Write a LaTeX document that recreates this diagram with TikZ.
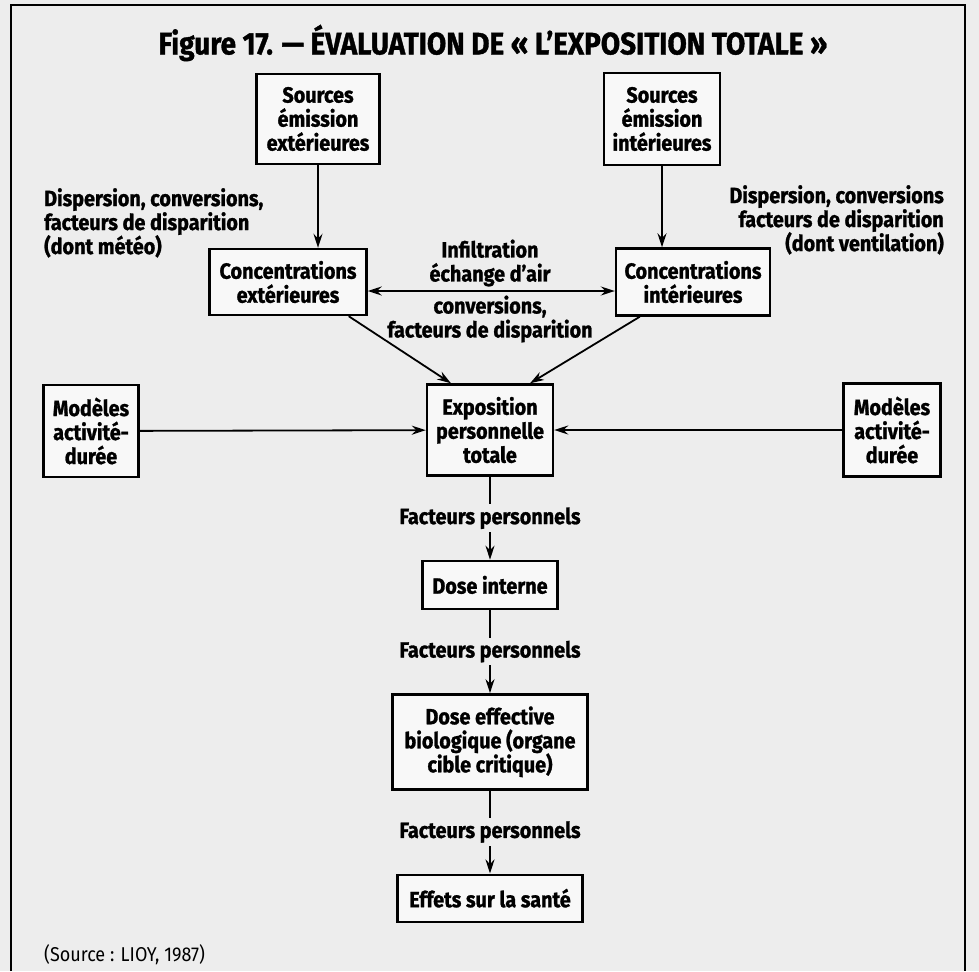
\documentclass[tikz,border=0pt]{standalone}
\usepackage{fontspec}
\setmainfont{Fira Sans}[FakeStretch=0.9, BoldFeatures={FakeBold=1.2}]
\usetikzlibrary{positioning,arrows.meta}
\definecolor{paper}{gray}{0.93}
\tikzset{
  flow box/.style 2 args={
    draw,
    line width=2.4pt,
    fill=white!60!paper,
    align=center,
    font=\bfseries\fontsize{22}{24}\selectfont,
    minimum width={#1pt},
    minimum height={#2pt},
    inner sep=1pt,
  },
  side note/.style={
    font=\bfseries\fontsize{22}{24}\selectfont,
    inner sep=0pt,
  },
  flow/.style={
    line width=1.8pt,
    ->,
  }
}

\begin{document}
\begin{tikzpicture}[x=1pt, y=-1pt, node distance=83pt, >={Stealth[length=14pt,width=9pt]}]
        \useasboundingbox (0,0) rectangle (979,971);
        \fill [paper] (0,0) rectangle (979,971);
        \draw [line width=1.5pt] (11,971) -- (11,5) -- (965,5) -- (965,971);

        \node [font=\bfseries\fontsize{31}{36}\selectfont] (title) at (493,43) {Figure 17. --- ÉVALUATION DE « L’EXPOSITION TOTALE »};

        \node [flow box={123}{90}] (srcext) at (318,119) {Sources\\émission\\extérieures};
        \node [flow box={116}{92}] (srcint) at (662,119) {Sources\\émission\\intérieures};
        \node [flow box={157}{66}] (concext) at (288,282) {Concentrations\\extérieures};
        \node [flow box={154}{67}] (concint) at (693,282) {Concentrations\\intérieures};
        \node [flow box={126}{91}] (expo) at (490,430) {Exposition\\personnelle\\totale};
        \node [flow box={95}{92}] (modext) at (91,431) {Modèles\\activité-\\durée};
        \node [flow box={97}{93}] (modint) at (892,430) {Modèles\\activité-\\durée};
        \node [flow box={135}{48}, below=of expo] (doseint) {Dose interne};
        \node [flow box={195}{95}, below=of doseint] (doseeff) {Dose effective\\biologique (organe\\cible critique)};
        \node [flow box={185}{47}, below=of doseeff] (effets) {Effets sur la santé};

        \node [side note, align=left, anchor=north west] (noteext) at (44,188) {Dispersion, conversions,\\facteurs de disparition\\(dont météo)};
        \node [side note, align=right, anchor=north east] (noteint) at (944,185) {Dispersion, conversions\\facteurs de disparition\\(dont ventilation)};
        \node [side note, align=center] (exchange) at (490,291) {Infiltration\\échange d’air\\[8pt]conversions,\\facteurs de disparition};

        \draw [flow] (srcext) -- (srcext |- concext.north);
        \draw [flow] (srcint) -- (srcint |- concint.north);
        \draw [flow, <->] ([yshift=-9pt]concext.east) -- ([yshift=-9pt]concint.west);
        \draw [flow] ([xshift=-19pt]concext.south east) -- ([xshift=-39pt]expo.north);
        \draw [flow] ([xshift=25pt]concint.south west) -- ([xshift=40pt]expo.north);
        \draw [flow] (modext) -- (expo);
        \draw [flow] (modint) -- (expo);

        \draw [flow] (expo) -- node [side note, fill=paper, inner sep=3pt] {Facteurs personnels} (doseint);
        \draw [flow] (doseint) -- node [side note, fill=paper, inner sep=3pt] {Facteurs personnels} (doseeff);
        \draw [flow] (doseeff) -- node [side note, fill=paper, inner sep=3pt] {Facteurs personnels} (effets);

        \node [anchor=west, font=\fontsize{20}{22}\selectfont, inner sep=0pt] (source) at (44,955) {(Source : LIOY, 1987)};
      \end{tikzpicture}
\end{document}
